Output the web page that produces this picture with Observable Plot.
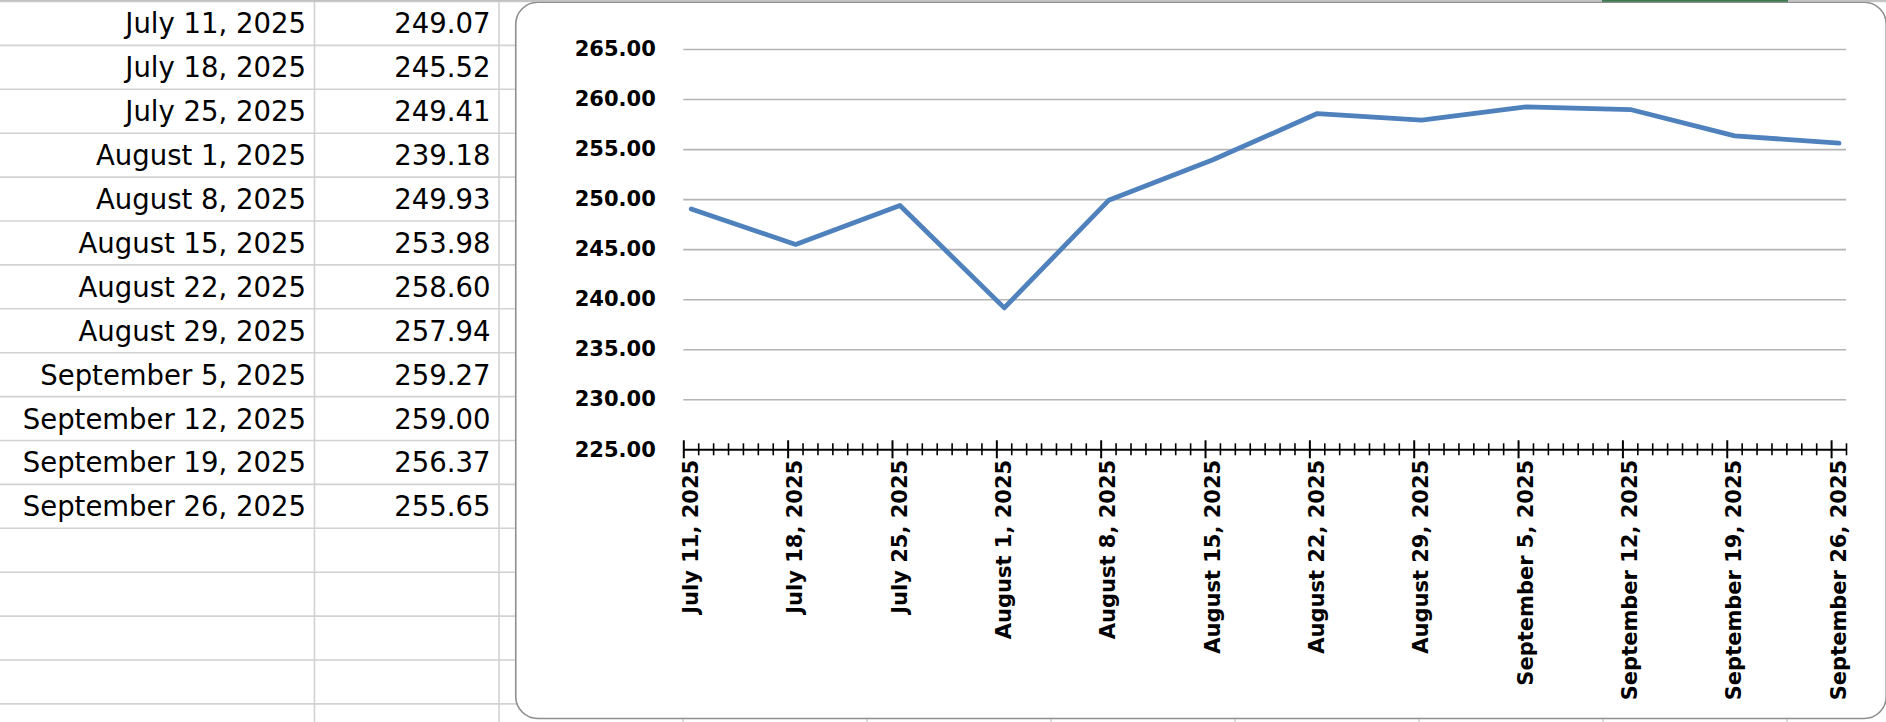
<!DOCTYPE html>
<html>
<head>
<meta charset="utf-8">
<script src="https://cdn.jsdelivr.net/npm/d3@7"></script>
<script src="https://cdn.jsdelivr.net/npm/@observablehq/plot@0.6"></script>
<style>
  html, body { margin: 0; padding: 0; background: #fff; overflow: hidden; }
  #page { position: relative; width: 1886px; height: 722px; }
  #sheet, #chart { position: absolute; left: 0; top: 0; }
  #chart svg { display: block; }
</style>
</head>
<body>
<div id="page">
  <div id="sheet"></div>
  <div id="chart"></div>
</div>
<script>
// ---- data ----
const dateStrings = [
  "2025-07-11", "2025-07-18", "2025-07-25", "2025-08-01", "2025-08-08", "2025-08-15",
  "2025-08-22", "2025-08-29", "2025-09-05", "2025-09-12", "2025-09-19", "2025-09-26"
];
const values = [249.07, 245.52, 249.41, 239.18, 249.93, 253.98, 258.60, 257.94, 259.27, 259.00, 256.37, 255.65];
const yTicks = [225, 230, 235, 240, 245, 250, 255, 260, 265];

const parse = d3.utcParse("%Y-%m-%d");
const dates = dateStrings.map(parse);
const fmtDate = d3.utcFormat("%B %-d, %Y");
const fmtVal = d3.format(".2f");
const rows = dates.map((d, i) => ({date: d, mid: d3.utcHour.offset(d, 12), value: values[i]}));
const xStart = dates[0];
const xEnd = d3.utcDay.offset(dates[dates.length - 1], 1);
const allDays = d3.utcDay.range(xStart, d3.utcDay.offset(xEnd, 1));
const minorDays = allDays.filter(d => !dates.some(m => +m === +d));

// ---- spreadsheet background (grid + table text + chart frame) ----
const W = 1886, H = 722;
const rowTop = 1.5, rowH = 43.9;
const gridColor = "#d2d2d2";
const sheet = d3.create("svg").attr("width", W).attr("height", H)
  .style("display", "block")
  .attr("font-family", "DejaVu Sans");
const colXs = [314.5, 499, 683, 867, 1051, 1235, 1419, 1603, 1787];
for (let k = 0; k <= 16; k++) {
  const y = rowTop + rowH * k;
  sheet.append("line").attr("x1", 0).attr("x2", W).attr("y1", y).attr("y2", y)
    .attr("stroke", gridColor).attr("stroke-width", 1.6);
}
colXs.forEach(x => {
  sheet.append("line").attr("x1", x).attr("x2", x).attr("y1", 0).attr("y2", H)
    .attr("stroke", gridColor).attr("stroke-width", 1.6);
});
rows.forEach((r, i) => {
  const base = rowTop + rowH * i + 31.9;
  sheet.append("text").attr("x", 306).attr("y", base).attr("text-anchor", "end")
    .attr("font-size", 27.5).attr("fill", "#000").text(fmtDate(r.date));
  sheet.append("text").attr("x", 490.5).attr("y", base).attr("text-anchor", "end")
    .attr("font-size", 27.5).attr("fill", "#000").text(fmtVal(r.value));
});
// chart frame
sheet.append("rect").attr("x", 515.75).attr("y", 2.25).attr("width", 1370.5).attr("height", 716.25)
  .attr("rx", 22).attr("ry", 22).attr("fill", "#fff").attr("stroke", "#8e8e8e").attr("stroke-width", 1.6);
// top header border + selected column marker
sheet.append("rect").attr("x", 0).attr("y", 0).attr("width", W).attr("height", 1.7).attr("fill", "#c2c2c2");
sheet.append("rect").attr("x", 1602).attr("y", 0).attr("width", 186).attr("height", 1.8).attr("fill", "#3b7a4e");
document.getElementById("sheet").appendChild(sheet.node());

// ---- chart ----
const chart = Plot.plot({
  width: W,
  height: H,
  marginLeft: 683.3,
  marginRight: 40,
  marginTop: 49,
  marginBottom: 272.7,
  x: {type: "utc", domain: [xStart, xEnd], axis: null},
  y: {domain: [225, 265], axis: null},
  style: {
    background: "transparent",
    fontFamily: "DejaVu Sans",
    fontSize: "21px",
    fontWeight: "bold",
    color: "#000",
    overflow: "visible"
  },
  marks: [
    Plot.ruleY(yTicks.filter(t => t !== 225), {stroke: "#b4b4b4", strokeWidth: 1.6}),
    Plot.ruleX(minorDays, {x: d => d, y1: 225, y2: 225, insetTop: -6, insetBottom: -6, stroke: "#000", strokeWidth: 1.6}),
    Plot.ruleX(dates, {x: d => d, y1: 225, y2: 225, insetTop: -9, insetBottom: -9, stroke: "#000", strokeWidth: 2}),
    Plot.ruleY([225], {stroke: "#000", strokeWidth: 2}),
    Plot.line(rows, {x: "mid", y: "value", stroke: "#4f81bd", strokeWidth: 4.8, strokeLinejoin: "round", strokeLinecap: "round"}),
    Plot.text(yTicks, {frameAnchor: "left", y: d => d, text: d => fmtVal(d), textAnchor: "end", dx: -28, fill: "#000"}),
    Plot.text(rows, {x: "mid", frameAnchor: "bottom", text: d => fmtDate(d.date), rotate: -90, textAnchor: "end", lineAnchor: "middle", dy: 10, fill: "#000"})
  ]
});
document.getElementById("chart").appendChild(chart);
</script>
</body>
</html>
